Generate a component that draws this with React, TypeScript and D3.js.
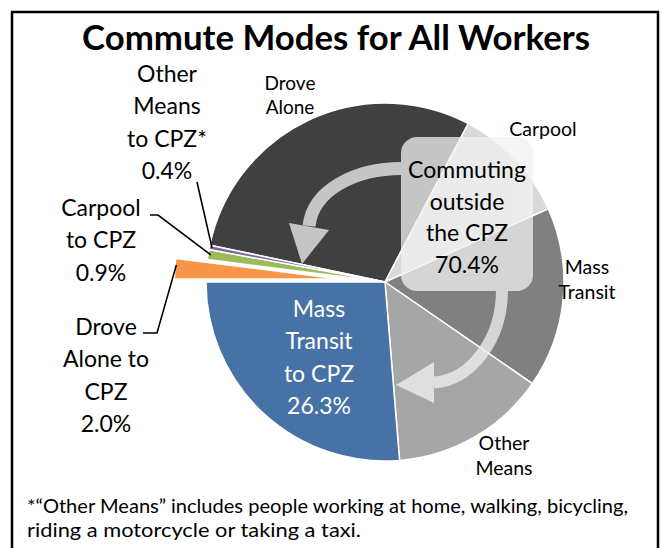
import React from "react";
import * as d3 from "d3";

// ---------- data ----------
const categories = [
  "Drove Alone",
  "Carpool",
  "Mass Transit",
  "Other Means",
  "Mass Transit to CPZ",
  "Drove Alone to CPZ",
  "Carpool to CPZ",
  "Other Means to CPZ",
];
const values = [29.4, 10.6, 16.3, 14.1, 26.3, 2.0, 0.9, 0.4];
const colors = ["#404040", "#d9d9d9", "#808080", "#a6a6a6", "#4672a6", "#f79646", "#9bbb59", "#8064a2"];
const explodedFlags = [false, false, false, false, false, true, false, false];
const labelLines = [
  ["Drove", "Alone"],
  ["Carpool"],
  ["Mass", "Transit"],
  ["Other", "Means"],
  ["Mass", "Transit", "to CPZ"],
  ["Drove", "Alone to", "CPZ"],
  ["Carpool", "to CPZ"],
  ["Other", "Means", "to CPZ*"],
];
const showPercent = [false, false, false, false, true, true, true, true];
const titleText = "Commute Modes for All Workers";
const groupLines = ["Commuting", "outside", "the CPZ"];
const footnoteLines = [
  "*\u201cOther Means\u201d includes people working at home, walking, bicycling,",
  "riding a motorcycle or taking a taxi.",
];

// ---------- layout ----------
const W = 662;
const H = 548;
const cx = 385;
const cy = 282;
const R = 179;
const FONT = "Lato, 'Liberation Sans', Arial, sans-serif";

// label placement: [x, firstBaseline, fontSize, lineGap, color]
const labelPos: [number, number, number, number, string][] = [
  [290, 90, 19, 24, "#000"],
  [543, 136, 19.5, 24, "#000"],
  [587, 274, 19.5, 25, "#000"],
  [504, 450, 19.5, 25, "#000"],
  [319, 317, 23, 32.3, "#fff"],
  [106, 335, 23, 32.3, "#000"],
  [101, 216, 23, 32.3, "#000"],
  [167, 82, 23, 32.3, "#000"],
];
// leader elbow points (label side) for the small CPZ slices
const leaderStart: Record<number, [number, number][]> = {
  5: [[143, 333], [157, 333]],
  6: [[150, 215], [158, 215]],
  7: [[197, 182]],
};

export default function App() {
  const total = d3.sum(values);
  const start = 1.5 * Math.PI - (2 * Math.PI * d3.sum(values.slice(0, 5))) / total;
  const pie = d3
    .pie<number>()
    .sort(null)
    .value((d) => d)
    .startAngle(start)
    .endAngle(start + 2 * Math.PI);
  const arcs = pie(values);
  const arcGen = d3.arc<d3.PieArcDatum<number>>().innerRadius(0).outerRadius(R);
  const explodeR = R * 0.92;
  const explodeOffset = 46;
  const arcExpl = d3.arc<d3.PieArcDatum<number>>().innerRadius(0).outerRadius(explodeR);

  const outerPoint = (a: d3.PieArcDatum<number>, i: number): [number, number] => {
    const mid = (a.startAngle + a.endAngle) / 2;
    if (explodedFlags[i]) {
      const ox = Math.sin(mid) * explodeOffset;
      const oy = -Math.cos(mid) * explodeOffset;
      return [cx + ox + Math.sin(mid) * explodeR * 0.99, cy + oy - Math.cos(mid) * explodeR * 0.99 - 4];
    }
    return [cx + Math.sin(mid) * R * 0.985, cy - Math.cos(mid) * R * 0.985];
  };

  // annotation arrows (curved)
  const arrowUpper = d3.path();
  arrowUpper.moveTo(402, 168.5);
  arrowUpper.bezierCurveTo(355, 168.5, 313, 190, 309, 226);
  const arrowLower = d3.path();
  arrowLower.moveTo(502, 290);
  arrowLower.bezierCurveTo(502, 340, 470, 381, 434, 382.5);
  const headUpper = "M289,223 L329,230 L302,264 Z";
  const headLower = "M434,362 L434,403 L396,385 Z";

  const outsideTotal = d3.sum(values.slice(0, 4));

  return (
    <svg
      width={W}
      height={H}
      viewBox={`0 0 ${W} ${H}`}
      style={{ position: "fixed", left: 0, top: 0, background: "#fff" }}
      fontFamily={FONT}
    >
      <rect x={0} y={0} width={W} height={H} fill="#fff" />
      <rect x={12} y={12} width={646} height={600} fill="none" stroke="#000" strokeWidth={2.5} />

      <text
        x={336}
        y={50}
        textAnchor="middle"
        fontSize={35}
        fontWeight="bold"
        textLength={508}
        lengthAdjust="spacingAndGlyphs"
      >
        {titleText}
      </text>

      <g>
        {arcs.map((a, i) => {
          const mid = (a.startAngle + a.endAngle) / 2;
          const off = explodedFlags[i] ? explodeOffset : 0;
          const tx = cx + Math.sin(mid) * off;
          const ty = cy - Math.cos(mid) * off;
          return (
            <path
              key={categories[i]}
              d={(explodedFlags[i] ? arcExpl(a) : arcGen(a)) || ""}
              transform={`translate(${tx},${ty})`}
              fill={colors[i]}
              stroke="#fff"
              strokeWidth={1.5}
              strokeLinejoin="round"
            />
          );
        })}
      </g>

      {/* overlay box and arrows */}
      <g opacity={0.75}>
        <rect x={401} y={137} width={132} height={154} rx={16} ry={16} fill="#f2f2f2" />
        <path d={arrowUpper.toString()} fill="none" stroke="#f2f2f2" strokeWidth={13} />
        <path d={headUpper} fill="#f2f2f2" />
        <path d={arrowLower.toString()} fill="none" stroke="#f2f2f2" strokeWidth={12} />
        <path d={headLower} fill="#f2f2f2" />
      </g>

      <text textAnchor="middle" fontSize={23} fill="#000">
        {[...groupLines, `${outsideTotal.toFixed(1)}%`].map((l, k) => (
          <tspan key={k} x={467} y={178 + k * 31.7}>
            {l}
          </tspan>
        ))}
      </text>

      {/* leader lines */}
      {Object.keys(leaderStart).map((k) => {
        const i = +k;
        const pts = [...leaderStart[i], outerPoint(arcs[i], i)];
        return (
          <polyline
            key={k}
            points={pts.map((p) => p.join(",")).join(" ")}
            fill="none"
            stroke="#000"
            strokeWidth={1.6}
          />
        );
      })}

      {/* category labels */}
      {labelLines.map((lines, i) => {
        const [x, y, fs, gap, col] = labelPos[i];
        const all = showPercent[i] ? [...lines, `${values[i].toFixed(1)}%`] : lines;
        return (
          <text key={i} textAnchor="middle" fontSize={fs} fill={col}>
            {all.map((l, k) => (
              <tspan key={k} x={x} y={y + k * gap}>
                {l}
              </tspan>
            ))}
          </text>
        );
      })}

      {/* footnote */}
      <text fontSize={19} fill="#000">
        <tspan x={27} y={513} textLength={601} lengthAdjust="spacingAndGlyphs">
          {footnoteLines[0]}
        </tspan>
      </text>
      <text fontSize={19} fill="#000">
        <tspan x={27} y={537} textLength={334} lengthAdjust="spacingAndGlyphs">
          {footnoteLines[1]}
        </tspan>
      </text>
    </svg>
  );
}
